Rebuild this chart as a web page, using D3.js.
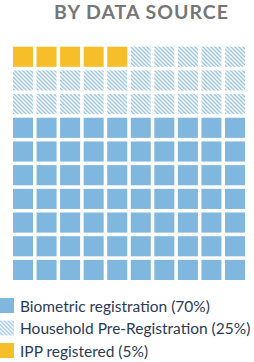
<!DOCTYPE html>
<html>
<head>
<meta charset="utf-8">
<script src="https://cdn.jsdelivr.net/npm/d3@7"></script>
<style>
  body { margin: 0; background: #fff; }
</style>
</head>
<body>
<div id="chart"></div>
<script>
// waffle data: one square = 1%
categories = ["IPP registered", "Household Pre-Registration", "Biometric registration"]
values = [5, 25, 70]
legendOrder = ["Biometric registration", "Household Pre-Registration", "IPP registered"]
colors = { "IPP registered": "#f6bf29", "Household Pre-Registration": "hatch", "Biometric registration": "#80b7de" }

width = 254
height = 362
cols = 10
rows = 10

const svg = d3.create("svg")
   .attr("width", width)
   .attr("height", height)
   .attr("viewBox", [0, 0, width, height])

const defs = svg.append("defs")
const pat = defs.append("pattern")
   .attr("id", "hatch")
   .attr("patternUnits", "userSpaceOnUse")
   .attr("width", 4)
   .attr("height", 4)
pat.append("rect").attr("width", 4).attr("height", 4).attr("fill", "#fff")
pat.append("path")
   .attr("d", "M0,0L4,4M-1,3L1,5M3,-1L5,1")
   .attr("stroke", "#9cc6e6")
   .attr("stroke-width", 1.4)

function fillOf(cat) {
   return colors[cat] == "hatch" ? "url(#hatch)" : colors[cat]
}

svg.append("text")
   .attr("x", 141.5)
   .attr("y", 19)
   .attr("text-anchor", "middle")
   .attr("font-family", "Lato, sans-serif")
   .attr("font-weight", "bold")
   .attr("font-size", 19.5)
   .attr("letter-spacing", 1)
   .attr("fill", "#767676")
   .text("BY DATA SOURCE")

// expand values into squares
cells = []
categories.forEach((c, k) => {
   for (let j = 0; j < values[k]; j++) cells.push(c)
})

x = d3.scaleBand()
   .domain(d3.range(cols))
   .range([13, 245])
   .paddingInner(0.15)

y = d3.scaleBand()
   .domain(d3.range(rows))
   .range([46.7, 280])
   .paddingInner(0.15)

svg.append("g")
   .selectAll("rect")
   .data(cells)
   .join("rect")
   .attr("x", (d, i) => x(i % cols))
   .attr("y", (d, i) => y(Math.floor(i / cols)))
   .attr("width", x.bandwidth())
   .attr("height", y.bandwidth())
   .attr("fill", d => fillOf(d))

legend = svg.append("g")
   .attr("font-family", "Lato, sans-serif")
   .attr("font-size", 15.5)
   .attr("fill", "#2b3a55")
   .selectAll("g")
   .data(legendOrder)
   .join("g")
   .attr("transform", (d, i) => `translate(0,${298 + i * 22.5})`)

legend.append("rect")
   .attr("width", 14)
   .attr("height", 15)
   .attr("fill", d => fillOf(d))

legend.append("text")
   .attr("x", 20)
   .attr("y", 13.5)
   .text(d => d + " (" + values[categories.indexOf(d)] + "%)")

d3.select("#chart").node().append(svg.node())
</script>
</body>
</html>
